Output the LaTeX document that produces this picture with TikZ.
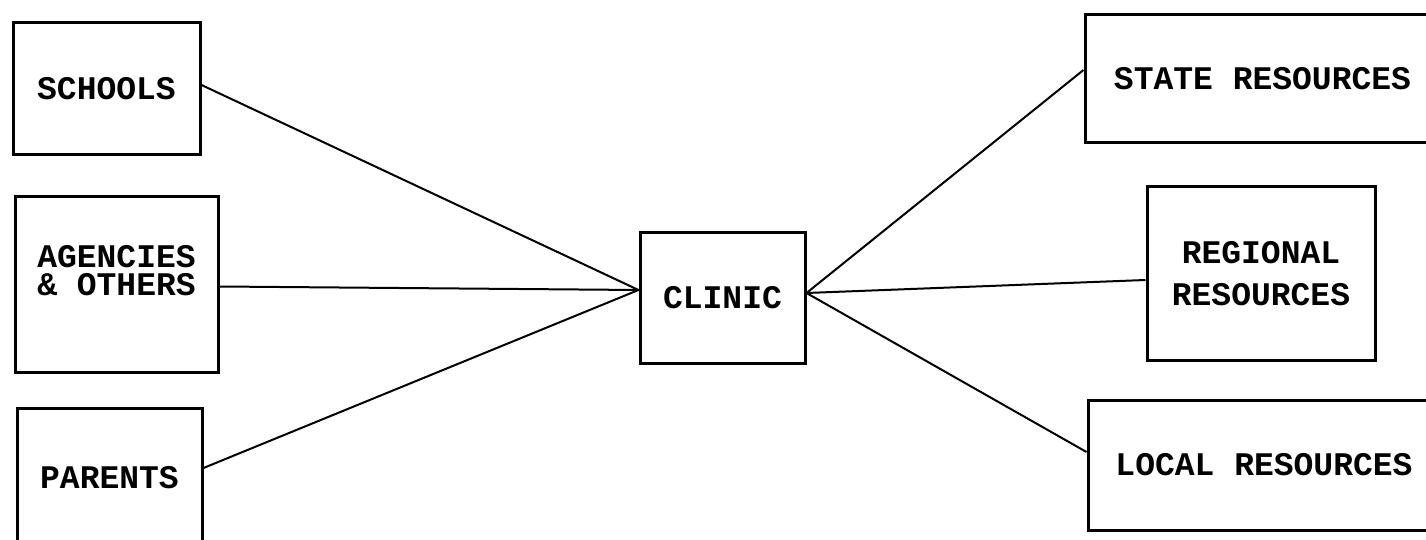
\documentclass[tikz,border=0pt]{standalone}
\usepackage{fontspec}
\setmonofont{Liberation Mono}
\usetikzlibrary{calc}
\begin{document}
\begin{tikzpicture}[x=0.5pt,y=-0.5pt,
  box/.style={draw, line width=1.5pt, rectangle, inner sep=0pt, align=center,
    font=\ttfamily\bfseries\fontsize{16.5}{14}\selectfont},
  link/.style={line width=1pt}]
\useasboundingbox (0,0) rectangle (1426,540);
\node[box, minimum width=93.5pt, minimum height=66pt] (schools) at (106.5,89) {SCHOOLS};
\node[box, minimum width=101.5pt, minimum height=87.5pt] (agencies) at (116.5,284.5) {AGENCIES\\\& OTHERS\\[-4pt]\strut};
\node[box, minimum width=92.5pt, minimum height=70pt] (parents) at (109.5,478) {PARENTS};
\node[box, minimum width=82.5pt, minimum height=65pt] (clinic) at (722.5,298) {CLINIC};
\node[box, minimum width=177.5pt, minimum height=64pt] (state) at (1262.5,79) {STATE RESOURCES};
\node[box, minimum width=114pt, minimum height=86.5pt, font=\ttfamily\bfseries\fontsize{16.5}{21}\selectfont] (regional) at (1261,273.5) {REGIONAL\\RESOURCES};
\node[box, minimum width=176pt, minimum height=65pt] (local) at (1264,465) {LOCAL RESOURCES};
\draw[link] ($(schools.east)+(0,-4)$) -- ($(clinic.west)+(0,-8)$);
\draw[link] ($(agencies.east)+(0,2)$) -- ($(clinic.west)+(0,-8)$);
\draw[link] ($(parents.east)+(0,-10)$) -- ($(clinic.west)+(0,-8)$);
\draw[link] ($(clinic.east)+(0,-5)$) -- ($(state.west)+(0,-9)$);
\draw[link] ($(clinic.east)+(0,-5)$) -- ($(regional.west)+(0,6.5)$);
\draw[link] ($(clinic.east)+(0,-5)$) -- ($(local.west)+(0,-13)$);
\end{tikzpicture}
\end{document}
